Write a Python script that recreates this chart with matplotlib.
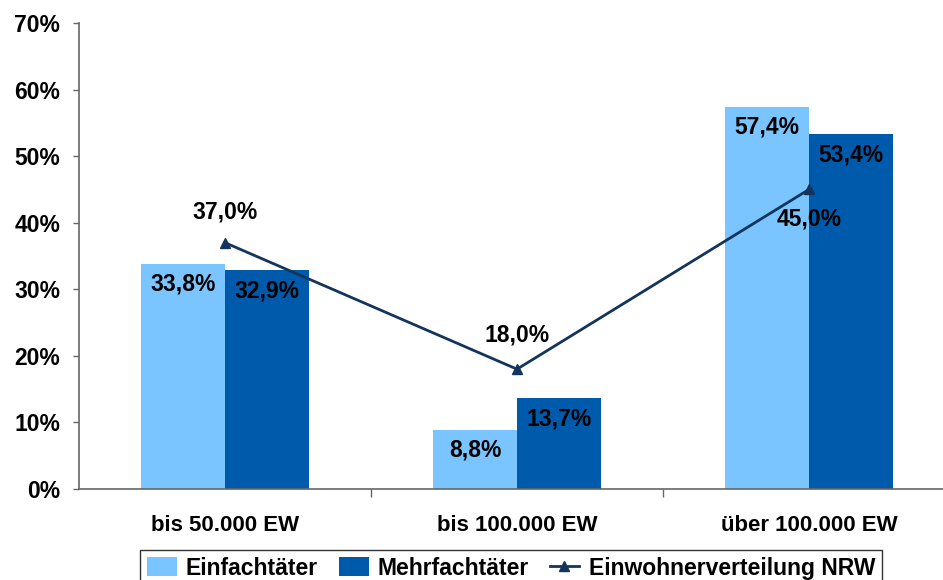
import numpy as np
import matplotlib.pyplot as plt
from matplotlib.ticker import FuncFormatter

plt.rcParams['font.family'] = ['Liberation Sans', 'DejaVu Sans']
plt.rcParams['font.weight'] = 'bold'

categories = ['bis 50.000 EW', 'bis 100.000 EW', 'über 100.000 EW']
einfach = [33.8, 8.8, 57.4]
mehrfach = [32.9, 13.7, 53.4]
einwohner = [37.0, 18.0, 45.0]

c_light = '#7AC5FF'
c_dark = '#005AAB'
c_line = '#13355C'


def fmt(v):
    return f'{v:.1f}%'.replace('.', ',')


fig = plt.figure(figsize=(9.43, 5.8), dpi=100)
ax = fig.add_axes([79 / 943, 1 - 489 / 580, 1 - 79 / 943, (489 - 23) / 580])

x = np.arange(len(categories))
w = 84 / 292

ax.bar(x - w / 2, einfach, w, color=c_light, label='Einfachtäter')
ax.bar(x + w / 2, mehrfach, w, color=c_dark, label='Mehrfachtäter')
ax.plot(x, einwohner, color=c_line, lw=2, marker='^', ms=7,
        label='Einwohnerverteilung NRW')

fs = 16.5
# bar values sit just below the top edge
for xi, v in zip(x - w / 2, einfach):
    ax.text(xi, v - 3.0, fmt(v), ha='center', va='center', fontsize=fs, fontweight='bold')
for xi, v in zip(x + w / 2, mehrfach):
    ax.text(xi, v - 3.2, fmt(v), ha='center', va='center', fontsize=fs, fontweight='bold')

# line values: above the marker, except the last one
offsets = [4.6, 5.2, -4.4]
for xi, v, off in zip(x, einwohner, offsets):
    ax.text(xi, v + off, fmt(v), ha='center', va='center', fontsize=fs, fontweight='bold')

ax.set_ylim(0, 70)
ax.set_yticks(np.arange(0, 71, 10))
ax.yaxis.set_major_formatter(FuncFormatter(lambda v, p: f'{v:.0f}%'))
ax.set_xlim(-0.5, 2.5 - 12 / 292)

ax.set_xticks([0.5, 1.5])
ax.set_xticklabels([])
ax.set_xticks(x, minor=True)
ax.set_xticklabels(categories, minor=True)
ax.tick_params(axis='x', which='minor', length=0, pad=19, labelsize=16)
ax.tick_params(axis='x', which='major', length=6, width=1, color='#666666')
ax.tick_params(axis='y', length=4.5, width=1, color='#666666', labelsize=16.5, pad=9)
for lbl in ax.get_xticklabels(minor=True) + ax.get_yticklabels():
    lbl.set_fontweight('bold')

for s in ['top', 'right']:
    ax.spines[s].set_visible(False)
for s in ['left', 'bottom']:
    ax.spines[s].set_color('#666666')
    ax.spines[s].set_linewidth(1.2)

handles, labels = ax.get_legend_handles_labels()
order = [labels.index(n) for n in ['Einfachtäter', 'Mehrfachtäter', 'Einwohnerverteilung NRW']]
leg = fig.legend([handles[i] for i in order], [labels[i] for i in order],
                 loc='upper center', bbox_to_anchor=(511 / 943, 1 - 550 / 580),
                 ncol=3, frameon=True, fancybox=False, edgecolor='black',
                 prop={'weight': 'bold', 'size': 16.5}, handlelength=1.3,
                 handleheight=0.9, handletextpad=0.4, columnspacing=0.9,
                 borderpad=0.3, borderaxespad=0)
leg.get_frame().set_linewidth(1.0)

fig.savefig('out.png', dpi=100)
